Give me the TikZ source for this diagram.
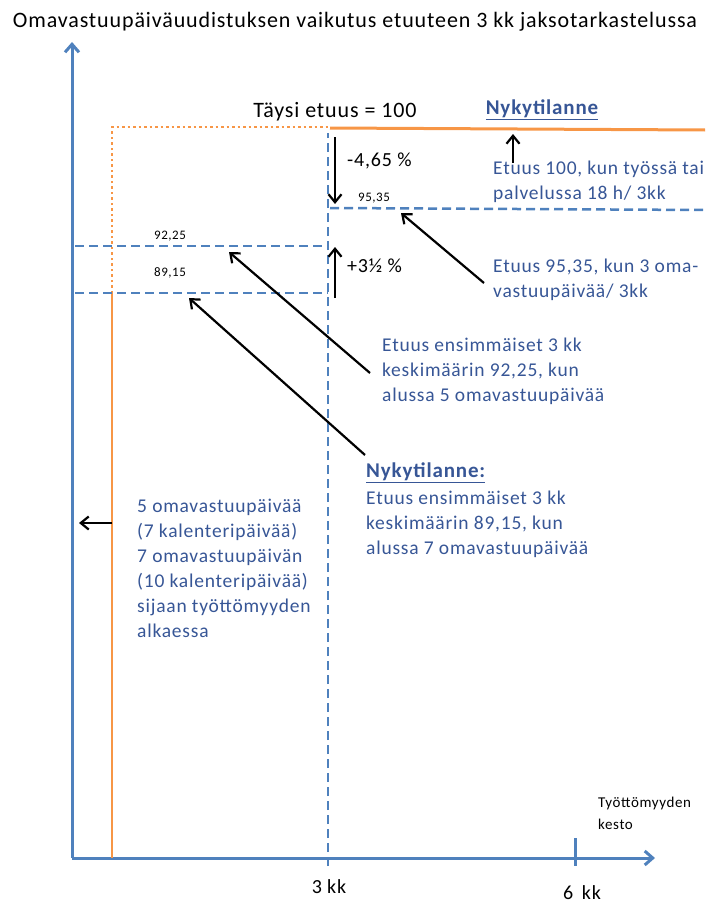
\documentclass[tikz,border=0pt]{standalone}
\usepackage{fontspec}
\setmainfont{Carlito}
\newfontfamily\widefont[LetterSpace=4]{Carlito}
\usetikzlibrary{arrows.meta}
\definecolor{axisblue}{RGB}{79,129,189}
\definecolor{textblue}{RGB}{55,86,150}
\definecolor{lineorange}{RGB}{247,150,70}

\begin{document}
\begin{tikzpicture}[x=1pt,y=-1pt,
    axis/.style={draw=axisblue,line width=3pt},
    levelline/.style={draw=axisblue,line width=2.5pt,dash pattern=on 9pt off 5pt},
    pointer/.style={draw=black,line width=2.2pt,-{Straight Barb[length=8pt,width=13pt]}},
    bluetext/.style={text=textblue,font=\widefont\fontsize{19.5}{25}\selectfont,align=left,anchor=north west,inner sep=0pt},
    blacktext/.style={font=\widefont\fontsize{20}{22}\selectfont,inner sep=0pt},
    smalltext/.style={font=\widefont\fontsize{13}{15}\selectfont,inner sep=0pt}]

    \useasboundingbox (0,0) rectangle (715,907);

    % title
    \node[font=\widefont\fontsize{22}{24}\selectfont,inner sep=0pt] (title) at (355,22) {Omavastuupäiväuudistuksen vaikutus etuuteen 3 kk jaksotarkastelussa};

    % axes
    \coordinate (o) at (72,858);
    \coordinate (ytop) at (72,42);
    \coordinate (xend) at (655,858);
    \draw[axis,-{Straight Barb[length=8pt,width=14pt]}] (o) -- (ytop);
    \draw[axis,-{Straight Barb[length=8pt,width=14pt]}] (o) -- (xend);
    \draw[axis] (575,838) -- (575,866);
    \node[blacktext] (kk3) at (329,887) {3 kk};
    \node[blacktext] (kk6) at (582,893) {6 \,kk};
    \node[font=\widefont\fontsize{15}{22}\selectfont,align=left,anchor=north west,inner sep=0pt] (kesto) at (598,797) {Työttömyyden\\kesto};

    % orange: full benefit
    \draw[draw=lineorange,line width=2.5pt] (112,858) -- (112,293);
    \draw[draw=lineorange,line width=2.5pt,dash pattern=on 2.5pt off 3pt] (112,293) -- (112,127) -- (330,127);
    \draw[draw=lineorange,line width=3pt] (330,128) -- (705,130);

    % blue dashed levels
    \draw[levelline] (328,866) -- (328,133);
    \draw[levelline] (330,208) -- (705,210);
    \draw[levelline] (75,246) -- (328,246);
    \draw[levelline] (75,293) -- (328,293);
    \node[smalltext] (v9535) at (374,198) {95,35};
    \node[smalltext] (v9225) at (170,236) {92,25};
    \node[smalltext] (v8915) at (170,273) {89,15};

    % headings
    \node[font=\widefont\fontsize{22}{24}\selectfont,inner sep=0pt] (taysi) at (335,112) {Täysi etuus = 100};
    \node[font=\widefont\bfseries\fontsize{21}{24}\selectfont,text=textblue,inner sep=0pt] (nyky) at (542,110) {\underline{Nykytilanne}};

    % change arrows
    \coordinate (d1) at (335,137);
    \coordinate (d2) at (335,204);
    \draw[pointer] (d1) -- (d2);
    \node[blacktext,anchor=west] (minus) at (347,161) {-4,65 \%};
    \coordinate (u1) at (335,298);
    \coordinate (u2) at (335,247);
    \draw[pointer] (u1) -- (u2);
    \node[blacktext,anchor=west] (plus) at (347,266) {+3½ \%};

    % explanations
    \node[bluetext] (e100) at (493,161) {Etuus 100, kun työssä tai\\palvelussa 18 h/ 3kk};
    \coordinate (a100) at (513,134);
    \coordinate (b100) at (513,163);
    \draw[pointer] (b100) -- (a100);

    \node[bluetext] (e9535) at (493,259) {Etuus 95,35, kun 3 oma-\\vastuupäivää/ 3kk};
    \coordinate (s9535) at (484,283);
    \coordinate (t9535) at (401,213);
    \draw[pointer] (s9535) -- (t9535);

    \node[bluetext] (e9225) at (382,338) {Etuus ensimmäiset 3 kk\\keskimäärin 92,25, kun\\alussa 5 omavastuupäivää};
    \coordinate (s9225) at (370,373);
    \coordinate (t9225) at (229,252);
    \draw[pointer] (s9225) -- (t9225);

    \node[bluetext,font=\widefont\bfseries\fontsize{21}{24}\selectfont] (nyky2) at (366,463) {\underline{Nykytilanne:}};
    \node[bluetext] (e8915) at (366,491) {Etuus ensimmäiset 3 kk\\keskimäärin 89,15, kun\\alussa 7 omavastuupäivää};
    \coordinate (s8915) at (365,455);
    \coordinate (t8915) at (189,298);
    \draw[pointer] (s8915) -- (t8915);

    \node[bluetext] (days) at (137,499) {5 omavastuupäivää\\(7 kalenteripäivää)\\7 omavastuupäivän\\(10 kalenteripäivää)\\sijaan työttömyyden\\alkaessa};
    \coordinate (l1) at (112,523);
    \coordinate (l2) at (79,523);
    \draw[pointer] (l1) -- (l2);
\end{tikzpicture}
\end{document}
